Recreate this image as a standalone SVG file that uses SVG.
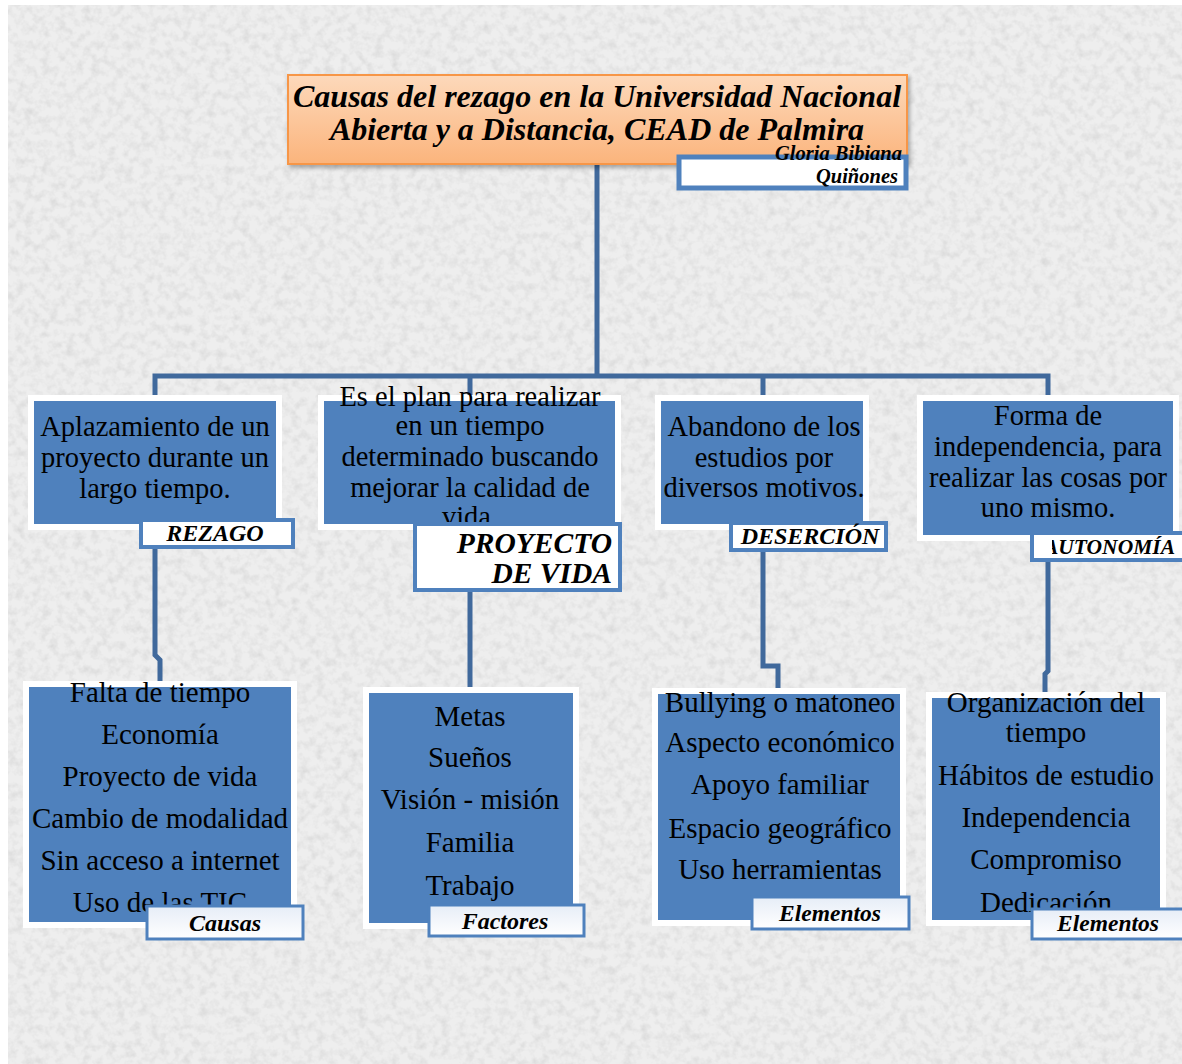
<svg xmlns="http://www.w3.org/2000/svg" width="1182" height="1064" viewBox="0 0 1182 1064">
<defs>
<style>
.conn{fill:none;stroke:#40699c;stroke-width:5;stroke-linejoin:miter}
.box{fill:#4f81bd;stroke:#ffffff;stroke-width:6}
.lbl{fill:#ffffff;stroke:#4f81bd;stroke-width:4}
.lbl2{fill:url(#lblg);stroke:#4f81bd;stroke-width:3}
.t{font-family:"Liberation Serif","Times New Roman",serif;font-size:28.5px;fill:#000;text-anchor:middle}
.tl{font-family:"Liberation Serif","Times New Roman",serif;font-size:29px;fill:#000;text-anchor:middle}
.bi{font-family:"Liberation Serif","Times New Roman",serif;font-weight:bold;font-style:italic;fill:#000}
</style>
<linearGradient id="tg" x1="0" y1="0" x2="0" y2="1">
<stop offset="0" stop-color="#fdd9bb"/>
<stop offset="1" stop-color="#fbb47c"/>
</linearGradient>
<linearGradient id="lblg" x1="0" y1="0" x2="0" y2="1">
<stop offset="0" stop-color="#e6edf7"/>
<stop offset="0.5" stop-color="#f3f6fb"/>
<stop offset="1" stop-color="#ffffff"/>
</linearGradient>
<filter id="tex" x="0" y="0" width="100%" height="100%">
<feTurbulence type="fractalNoise" baseFrequency="0.12" numOctaves="3" seed="7"/>
<feColorMatrix values="0 0 0 0 0.6  0 0 0 0 0.6  0 0 0 0 0.6  1.1 0 0 0 -0.45"/>
</filter>
<filter id="sh" x="-5%" y="-5%" width="110%" height="120%">
<feDropShadow dx="2" dy="3" stdDeviation="2" flood-color="#000" flood-opacity="0.3"/>
</filter>
<clipPath id="clipAut"><rect x="1052" y="530" width="130" height="40"/></clipPath>
</defs>

<g id="background">
<rect x="0" y="0" width="1182" height="1064" fill="#ffffff"/>
<rect x="8" y="5" width="1174" height="1059" fill="#eeeeee"/>
<rect x="8" y="5" width="1174" height="1059" filter="url(#tex)"/>
</g>

<g id="connectors">
<path class="conn" d="M597 164 V376"/>
<path class="conn" d="M155 398 V376 H1048 V398"/>
<path class="conn" d="M470 376 V398"/>
<path class="conn" d="M763 376 V398"/>
<path class="conn" d="M155 548 V655 L160 660 V684"/>
<path class="conn" d="M470 592 V690"/>
<path class="conn" d="M763 552 V666 H778 V692"/>
<path class="conn" d="M1048 562 V671 L1045 674 V696"/>
</g>

<g id="title">
<rect x="288" y="75" width="619" height="89" fill="url(#tg)" stroke="#f79646" stroke-width="2" filter="url(#sh)"/>
<text class="bi" x="597" y="107" font-size="32" text-anchor="middle">Causas del rezago en la Universidad Nacional</text>
<text class="bi" x="597" y="140" font-size="32" text-anchor="middle">Abierta y a Distancia, CEAD de Palmira</text>
</g>

<g id="author">
<rect x="679" y="157" width="227" height="31" fill="#ffffff" stroke="#4f81bd" stroke-width="5"/>
<text class="bi" x="902" y="160" font-size="20.5" text-anchor="end">Gloria Bibiana</text>
<text class="bi" x="898" y="183" font-size="20.5" text-anchor="end">Quiñones</text>
</g>

<g id="rezago">
<rect class="box" x="31" y="398" width="248" height="129"/>
<text class="t" x="155" y="436">Aplazamiento de un</text>
<text class="t" x="155" y="467">proyecto durante un</text>
<text class="t" x="155" y="498">largo tiempo.</text>
<rect class="lbl" x="141" y="520" width="152" height="27"/>
<text class="bi" x="215" y="541" font-size="24" text-anchor="middle">REZAGO</text>
</g>

<g id="proyecto">
<rect class="box" x="321" y="398" width="297" height="129"/>
<text class="t" x="470" y="406">Es el plan para realizar</text>
<text class="t" x="470" y="435">en un tiempo</text>
<text class="t" x="470" y="466">determinado buscando</text>
<text class="t" x="470" y="497">mejorar la calidad de</text>
<text class="t" x="470" y="526">vida.</text>
<rect class="lbl" x="415" y="524" width="205" height="66"/>
<text class="bi" x="612" y="553" font-size="29.5" text-anchor="end">PROYECTO</text>
<text class="bi" x="612" y="583" font-size="29.5" text-anchor="end">DE VIDA</text>
</g>

<g id="desercion">
<rect class="box" x="658" y="398" width="208" height="129"/>
<text class="t" x="764" y="436">Abandono de los</text>
<text class="t" x="764" y="467">estudios por</text>
<text class="t" x="764" y="497">diversos motivos.</text>
<rect class="lbl" x="731" y="523" width="155" height="27"/>
<text class="bi" x="810" y="544" font-size="24" text-anchor="middle">DESERCIÓN</text>
</g>

<g id="autonomia">
<rect class="box" x="920" y="398" width="256" height="140"/>
<text class="t" x="1048" y="425">Forma de</text>
<text class="t" x="1048" y="456">independencia, para</text>
<text class="t" x="1048" y="487">realizar las cosas por</text>
<text class="t" x="1048" y="517">uno mismo.</text>
<rect class="lbl" x="1032" y="533" width="154" height="27"/>
<text class="bi" x="1175" y="554" font-size="21.5" text-anchor="end" clip-path="url(#clipAut)">AUTONOMÍA</text>
</g>

<g id="causas">
<rect class="box" x="26" y="684" width="268" height="241"/>
<text class="tl" x="160" y="702">Falta de tiempo</text>
<text class="tl" x="160" y="744">Economía</text>
<text class="tl" x="160" y="786">Proyecto de vida</text>
<text class="tl" x="160" y="828">Cambio de modalidad</text>
<text class="tl" x="160" y="870">Sin acceso a internet</text>
<text class="tl" x="160" y="912">Uso de las TIC</text>
<rect class="lbl2" x="147" y="906" width="156" height="33"/>
<text class="bi" x="225" y="931" font-size="24" text-anchor="middle">Causas</text>
</g>

<g id="factores">
<rect class="box" x="366" y="690" width="210" height="236"/>
<text class="tl" x="470" y="726">Metas</text>
<text class="tl" x="470" y="767">Sueños</text>
<text class="tl" x="470" y="809">Visión - misión</text>
<text class="tl" x="470" y="852">Familia</text>
<text class="tl" x="470" y="895">Trabajo</text>
<rect class="lbl2" x="429" y="905" width="155" height="31"/>
<text class="bi" x="505" y="929" font-size="24" text-anchor="middle">Factores</text>
</g>

<g id="elementos1">
<rect class="box" x="655" y="691" width="248" height="232"/>
<text class="tl" x="780" y="712">Bullying o matoneo</text>
<text class="tl" x="780" y="752">Aspecto económico</text>
<text class="tl" x="780" y="794">Apoyo familiar</text>
<text class="tl" x="780" y="838">Espacio geográfico</text>
<text class="tl" x="780" y="879">Uso herramientas</text>
<rect class="lbl2" x="752" y="897" width="157" height="32"/>
<text class="bi" x="830" y="921" font-size="23.5" text-anchor="middle">Elementos</text>
</g>

<g id="elementos2">
<rect class="box" x="929" y="695" width="234" height="228"/>
<text class="tl" x="1046" y="712">Organización del</text>
<text class="tl" x="1046" y="742">tiempo</text>
<text class="tl" x="1046" y="785">Hábitos de estudio</text>
<text class="tl" x="1046" y="827">Independencia</text>
<text class="tl" x="1046" y="869">Compromiso</text>
<text class="tl" x="1046" y="912">Dedicación</text>
<rect class="lbl2" x="1032" y="909" width="154" height="30"/>
<text class="bi" x="1108" y="931" font-size="23.5" text-anchor="middle">Elementos</text>
</g>
</svg>
